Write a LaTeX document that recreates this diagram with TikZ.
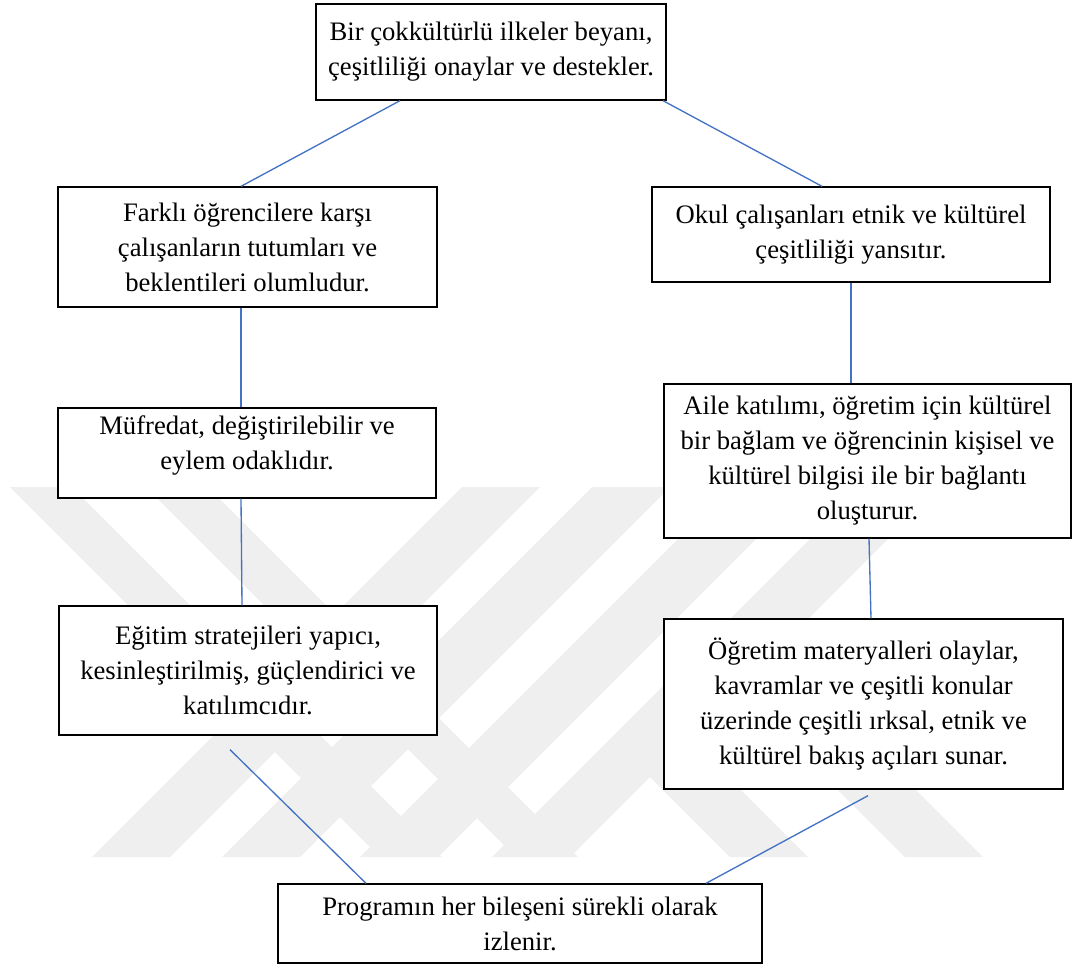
\documentclass[tikz,border=0pt]{standalone}
\usepackage{fontspec}
\setmainfont{Liberation Serif}
\usepackage{tikz}
\usetikzlibrary{calc}

\definecolor{linkblue}{HTML}{4472C4}
\definecolor{markgray}{HTML}{EFEFEF}

\begin{document}
\begin{tikzpicture}[
        x=0.75pt, y=-0.75pt,
        font=\fontsize{20}{26.25}\selectfont,
        box/.style={draw=black, line width=1pt, fill=white, align=center, inner sep=0pt},
        link/.style={linkblue, line width=1pt}
    ]

        % === DEFINITIONS ===
        \def\pxu{0.75pt}   % one pixel of the layout
        \def\wmTop{487}    % top of watermark band
        \def\wmBot{857}    % bottom of watermark band
        \def\wmW{78}       % width of one rising stripe
        \def\wmV{62}       % width of one falling stripe

        \useasboundingbox (0,0) rectangle (1073,965);

        % === 1. WATERMARK STRIPES ===
        \foreach \t in {10, 146} {
            \fill[markgray] (\t,\wmTop) -- (\t+\wmV,\wmTop) -- (\t+\wmV+370,\wmBot) -- (\t+370,\wmBot) -- cycle;
        }
        \foreach \t in {462, 592, 730, 862} {
            \fill[markgray] (\t,\wmTop) -- (\t+\wmW,\wmTop) -- (\t+\wmW-370,\wmBot) -- (\t-370,\wmBot) -- cycle;
        }
        \foreach \t in {613, 788} {
            \fill[markgray] (\t,740) -- (\t+\wmW,740) -- (\t+\wmW+117,\wmBot) -- (\t+117,\wmBot) -- cycle;
        }

        % === 2. BOXES ===
        \node[box, minimum width=350*\pxu, minimum height=96*\pxu] (beyan) at (491,52)
            {Bir çokkültürlü ilkeler beyanı,\\ çeşitliliği onaylar ve destekler.};

        \node[box, minimum width=379*\pxu, minimum height=120*\pxu] (tutum) at (247.5,247)
            {Farklı öğrencilere karşı\\ çalışanların tutumları ve\\ beklentileri olumludur.};
        \node[box, minimum width=398*\pxu, minimum height=95*\pxu] (calisan) at (851,234.5)
            {Okul çalışanları etnik ve kültürel\\ çeşitliliği yansıtır.};

        \node[box, minimum width=378*\pxu, minimum height=90*\pxu] (mufredat) at (247,453)
            {Müfredat, değiştirilebilir ve\\ eylem odaklıdır.\\[-10pt]};
        \node[box, minimum width=407*\pxu, minimum height=154*\pxu] (aile) at (867.5,461)
            {Aile katılımı, öğretim için kültürel\\ bir bağlam ve öğrencinin kişisel ve\\ kültürel bilgisi ile bir bağlantı\\ oluşturur.};

        \node[box, minimum width=378*\pxu, minimum height=129*\pxu] (strateji) at (248,670.5)
            {Eğitim stratejileri yapıcı,\\ kesinleştirilmiş, güçlendirici ve\\ katılımcıdır.};
        \node[box, minimum width=399*\pxu, minimum height=170*\pxu] (materyal) at (863.5,704)
            {Öğretim materyalleri olaylar,\\ kavramlar ve çeşitli konular\\ üzerinde çeşitli ırksal, etnik ve\\ kültürel bakış açıları sunar.};

        \node[box, minimum width=484*\pxu, minimum height=79*\pxu] (izlem) at (520,923.5)
            {Programın her bileşeni sürekli olarak\\ izlenir.};

        % === 3. CONNECTORS ===
        \draw[link] (beyan.south -| 400,0) -- (tutum.north -| 241,0);
        \draw[link] (beyan.south -| 663,0) -- (calisan.north -| 822,0);
        \draw[link] (tutum.south -| 241,0) -- (mufredat.north -| 241,0);
        \draw[link] (mufredat.south -| 241,0) -- (strateji.north -| 242,0);
        \draw[link] (calisan.south -| 851,0) -- (aile.north -| 851,0);
        \draw[link] (aile.south -| 869,0) -- (materyal.north -| 871,0);

        % free ends below the lower boxes
        \coordinate (stratejiEnd) at ($(strateji.south -| 230,0)+(0,14)$);
        \coordinate (materyalEnd) at ($(materyal.south -| 868,0)+(0,6)$);
        \draw[link] (stratejiEnd) -- (izlem.north -| 366,0);
        \draw[link] (materyalEnd) -- (izlem.north -| 706,0);

\end{tikzpicture}
\end{document}
